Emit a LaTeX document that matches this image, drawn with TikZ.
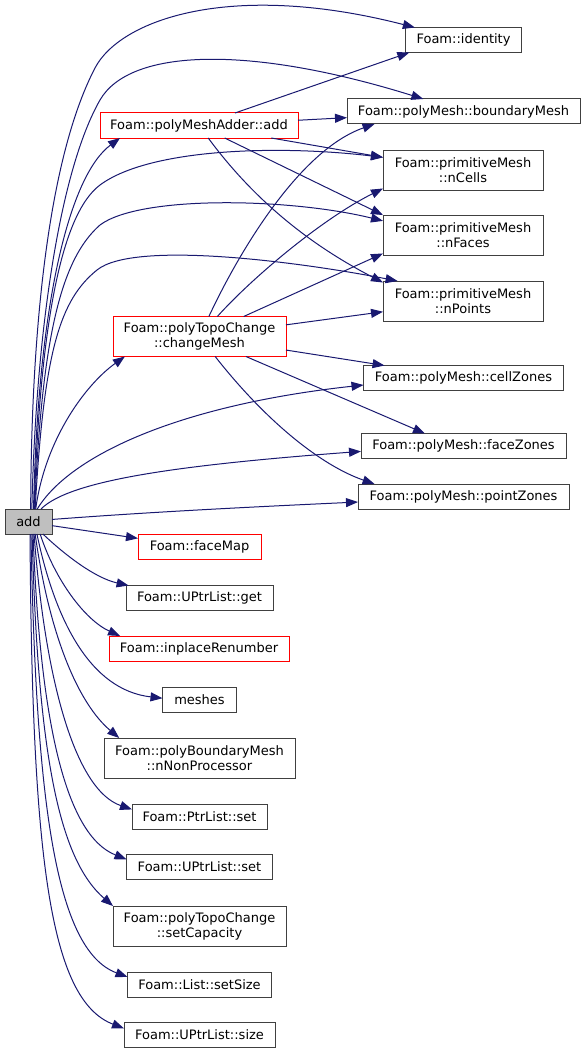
\documentclass[tikz,border=0pt]{standalone}
\usepackage{fontspec}
\setmainfont{DejaVu Sans}
\usetikzlibrary{arrows.meta}
\definecolor{cgedge}{HTML}{191970}
\definecolor{cgtrunc}{HTML}{FF0000}
\definecolor{cgroot}{HTML}{BFBFBF}
\definecolor{cgbox}{HTML}{404040}

\begin{document}
\begin{tikzpicture}[x=1pt,y=-1pt,
  fn/.style={draw=cgbox,line width=1pt,fill=white,inner sep=0pt,outer sep=0pt,minimum height=25,font=\fontsize{13}{15}\selectfont},
  two/.style={minimum height=40,align=center},
  trunc/.style={draw=cgtrunc},
  call/.style={cgedge,line width=1pt,-{Triangle[length=12pt,width=9pt]}}]
  \useasboundingbox (0,0) rectangle (585,1054);
  \node[fn,fill=cgroot,minimum width=47] (add) at (28.5,521.5) {add};
  \node[fn,trunc,minimum width=198] (pma) at (199,125.5) {Foam::polyMeshAdder::add};
  \node[fn,trunc,two,minimum width=173] (chg) at (199.5,336.5) {Foam::polyTopoChange\\::changeMesh};
  \foreach \n/\y/\w/\t in {ident/40/116/Foam::identity, bmesh/111.5/233/Foam::polyMesh::boundaryMesh,
      czones/378/200/Foam::polyMesh::cellZones, fzones/446/205/Foam::polyMesh::faceZones,
      pzones/496.5/211/Foam::polyMesh::pointZones}
    {\node[fn,minimum width=\w] (\n) at (463.5,\y) {\t};}
  \foreach \n/\y/\t in {ncells/170/nCells, nfaces/235/nFaces, npoints/301/nPoints}
    {\node[fn,two,minimum width=160] (\n) at (463,\y) {Foam::primitiveMesh\\::\t};}
  \node[fn,trunc,minimum width=123] (fmap) at (199.5,547) {Foam::faceMap};
  \node[fn,trunc,minimum width=180] (inplace) at (199,648.5) {Foam::inplaceRenumber};
  \node[fn,two,minimum width=191] (nnonproc) at (199.5,758) {Foam::polyBoundaryMesh\\::nNonProcessor};
  \node[fn,two,minimum width=173] (setcap) at (199.5,926) {Foam::polyTopoChange\\::setCapacity};
  \foreach \n/\y/\w/\t in {uget/598/147/Foam::UPtrList::get, meshes/699.5/74/meshes,
      ptrset/816.5/135/Foam::PtrList::set, uset/867/146/Foam::UPtrList::set,
      setsize/984.5/144/Foam::List::setSize, usize/1035/151/Foam::UPtrList::size}
    {\node[fn,minimum width=\w] (\n) at (199.5,\y) {\t};}

  \draw[call] (add.80) .. controls (31,350) and (45,164) .. (95,68) .. controls (120,20) and (230,-20) .. (ident);
  \draw[call] (add.75) .. controls (36,330) and (60,170) .. (100,100) .. controls (130,48) and (250,45) .. (bmesh);
  \draw[call] (add.68) .. controls (38,300) and (70,175) .. (pma.189);
  \draw[call] (add.66) .. controls (40,330) and (60,215) .. (100,185) .. controls (150,148) and (280,145) .. (ncells.171);
  \draw[call] (add.64) .. controls (42,340) and (60,260) .. (100,225) .. controls (140,195) and (290,198) .. (nfaces.170);
  \draw[call] (add.62) .. controls (44,350) and (60,300) .. (97,270) .. controls (134,240) and (300,262) .. (npoints.163);
  \draw[call] (add.60) .. controls (45,440) and (85,385) .. (chg.195);
  \draw[call] (add.55) .. controls (70,455) and (180,405) .. (czones.184);
  \draw[call] (add.45) .. controls (70,480) and (180,465) .. (fzones.183);
  \draw[call] (add.5) .. controls (150,512) and (250,507) .. (pzones.183);
  \draw[call] (add.-10) -- (fmap.172);
  \foreach \t/\a/\px/\py/\qx/\qy/\b in {uget/-41/65/555/95/578/170, inplace/-47/55/580/85/620/171,
      meshes/-56/55/620/90/690/178, nnonproc/-62/50/640/80/705/166, ptrset/-66/45/680/75/790/174,
      uset/-70/40/720/65/835/174, setcap/-74/38/760/60/860/167, setsize/-79/36/800/55/950/174,
      usize/-83/32/860/50/1000/175}
    {\draw[call] (add.\a) .. controls (\px,\py) and (\qx,\qy) .. (\t.\b);}

  \draw[call] (pma) -- (ident.193);
  \draw[call] (pma) -- (bmesh);
  \draw[call] (pma) -- (ncells.171);
  \draw[call] (pma) -- (nfaces.166);
  \draw[call] (pma) .. controls (265,215) and (330,255) .. (npoints.167);

  \draw[call] (chg) .. controls (240,250) and (300,150) .. (bmesh.188);
  \draw[call] (chg) .. controls (250,280) and (320,220) .. (ncells.193);
  \draw[call] (chg) -- (nfaces.193);
  \draw[call] (chg) -- (npoints);
  \draw[call] (chg) -- (czones.171);
  \draw[call] (chg) -- (fzones.162);
  \draw[call] (chg) .. controls (265,420) and (320,465) .. (pzones.172);
\end{tikzpicture}
\end{document}
